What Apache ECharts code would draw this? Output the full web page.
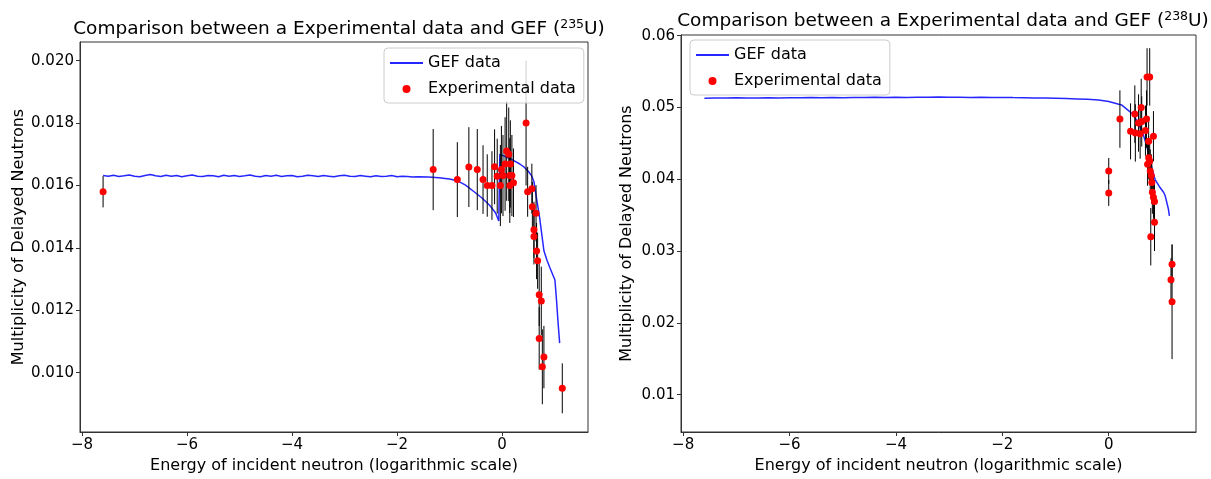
<!DOCTYPE html>
<html>
<head>
<meta charset="UTF-8">
<title>GEF vs Experimental data</title>
<script src="https://cdn.jsdelivr.net/npm/echarts@6/dist/echarts.min.js"></script>
<style>
body {
    margin: 0;
    padding: 0;
    background: #fff;
}
#main {
    width: 1211px;
    height: 479px;
}
</style>
</head>
<body>
<div id="main"></div>
<script>
// ---- U235 : GEF curve ----
var gef235X = [-7.6,-7.5,-7.4,-7.3,-7.2,-7.1,-7.0,-6.9,-6.8,-6.7,
    -6.6,-6.5,-6.4,-6.3,-6.2,-6.1,-6.0,-5.9,-5.8,-5.7,
    -5.6,-5.5,-5.4,-5.3,-5.2,-5.1,-5.0,-4.9,-4.8,-4.7,
    -4.6,-4.5,-4.4,-4.3,-4.2,-4.1,-4.0,-3.9,-3.8,-3.7,
    -3.6,-3.5,-3.4,-3.3,-3.2,-3.1,-3.0,-2.9,-2.8,-2.7,
    -2.6,-2.5,-2.4,-2.3,-2.2,-2.1,-2.0,-1.9,-1.8,-1.7,
    -1.6,-1.4,-1.2,-1.0,-0.85,-0.7,-0.53,-0.38,-0.23,-0.12,
    -0.06,-0.04,0.09,0.2,0.34,0.43,0.51,0.57,0.61,0.66,
    0.72,0.8,0.86,0.91,1.01,1.04,1.07,1.1];
var gef235Y = [0.01632,0.01630,0.01633,0.01629,0.01631,0.01634,0.01630,0.01628,0.01632,0.01635,
    0.01631,0.01629,0.01633,0.01630,0.01632,0.01628,0.01631,0.01634,0.01630,0.01629,
    0.01632,0.01631,0.01628,0.01633,0.01630,0.01632,0.01629,0.01631,0.01634,0.01630,
    0.01628,0.01632,0.01630,0.01633,0.01629,0.01631,0.01632,0.01628,0.01630,0.01633,
    0.01631,0.01629,0.01632,0.01630,0.01628,0.01631,0.01633,0.01630,0.01629,0.01632,
    0.01630,0.01628,0.01631,0.01629,0.01630,0.01632,0.01628,0.01630,0.01629,0.01627,
    0.01628,0.01627,0.01625,0.01621,0.01615,0.01602,0.01580,0.01560,0.01536,0.01512,
    0.01486,0.01700,0.01691,0.01682,0.01669,0.01658,0.01644,0.01630,0.01612,0.01558,
    0.01495,0.01391,0.01360,0.01338,0.01297,0.01233,0.01160,0.01095];

// ---- U235 : experimental points ----
var exp235X = [-7.6,-1.31,-0.85,-0.63,-0.47,-0.36,-0.28,-0.19,-0.14,-0.09,
    -0.03,-0.01,0.02,0.06,0.09,0.13,0.16,0.15,0.19,0.15,
    0.22,0.46,0.49,0.57,0.58,0.65,0.61,0.61,0.66,0.68,
    0.71,0.75,0.71,0.8,0.77,1.15];
var exp235Y = [0.01580,0.01651,0.01619,0.01659,0.01651,0.01619,0.01600,0.01600,0.01660,0.01630,
    0.01600,0.01651,0.01632,0.01669,0.01711,0.01700,0.01669,0.01632,0.01632,0.01600,
    0.01609,0.01800,0.01580,0.01590,0.01532,0.01511,0.01458,0.01437,0.01390,0.01359,
    0.01250,0.01230,0.01110,0.01050,0.01019,0.00950];
var exp235Err = [0.0005,0.0013,0.0012,0.00128,0.0013,0.0011,0.001,0.0011,0.0012,0.0012,
    0.0013,0.0014,0.0013,0.0015,0.0016,0.0015,0.0014,0.0012,0.0013,0.0012,
    0.0011,0.002,0.0008,0.0008,0.0008,0.0009,0.0009,0.0009,0.0009,0.0009,
    0.001,0.0011,0.001,0.001,0.0012,0.0008];

// ---- U238 : GEF curve ----
var gef238X = [-7.6,-7.4,-7.2,-7.0,-6.8,-6.6,-6.4,-6.2,-6.0,-5.8,
    -5.6,-5.4,-5.2,-5.0,-4.8,-4.6,-4.4,-4.2,-4.0,-3.8,
    -3.6,-3.4,-3.2,-3.0,-2.8,-2.6,-2.4,-2.2,-2.0,-1.8,
    -1.6,-1.4,-1.2,-1.0,-0.8,-0.6,-0.4,-0.19,0.0,0.24,
    0.43,0.55,0.65,0.72,0.78,0.87,0.95,1.03,1.06,1.12,1.14];
var gef238Y = [0.05130,0.05133,0.05131,0.05135,0.05132,0.05134,0.05136,0.05133,0.05137,0.05135,
    0.05138,0.05136,0.05140,0.05137,0.05141,0.05139,0.05142,0.05140,0.05143,0.05141,
    0.05144,0.05142,0.05145,0.05143,0.05144,0.05141,0.05143,0.05140,0.05141,0.05138,
    0.05136,0.05133,0.05131,0.05128,0.05125,0.05120,0.05115,0.05105,0.05085,0.05036,
    0.04921,0.04800,0.04620,0.04450,0.04237,0.04000,0.03900,0.03820,0.03773,0.03590,0.03489];

// ---- U238 : experimental points ----
var exp238X = [0.0,0.0,0.21,0.41,0.49,0.5,0.56,0.59,0.61,0.62,
    0.69,0.71,0.72,0.77,0.75,0.84,0.75,0.77,0.73,0.78,
    0.8,0.81,0.82,0.84,0.86,0.86,0.79,1.19,1.17,1.19];
var exp238Y = [0.04117,0.03810,0.04839,0.04668,0.04908,0.04646,0.04784,0.04636,0.05000,0.04806,
    0.04678,0.04839,0.05426,0.05426,0.04530,0.04600,0.04300,0.04255,0.04210,0.04117,
    0.04048,0.03957,0.03820,0.03750,0.03690,0.03400,0.03200,0.02818,0.02600,0.02295];
var exp238Err = [0.0018,0.0018,0.004,0.0039,0.004,0.004,0.004,0.0035,0.004,0.0035,
    0.0035,0.004,0.004,0.004,0.0035,0.0035,0.003,0.003,0.003,0.003,
    0.003,0.003,0.003,0.003,0.003,0.004,0.004,0.0027,0.003,0.008];

var xTicks = [-8, -6, -4, -2, 0];
var y235Ticks = [0.010, 0.012, 0.014, 0.016, 0.018, 0.020];
var y238Ticks = [0.01, 0.02, 0.03, 0.04, 0.05, 0.06];

var FONT = 'DejaVu Sans';

function zip(xs, ys) {
    return xs.map(function (x, i) { return [x, ys[i]]; });
}
function errData(xs, ys, es) {
    return xs.map(function (x, i) { return [x, ys[i] - es[i], ys[i] + es[i]]; });
}
function errRender(params, api) {
    var x = api.value(0);
    var lo = api.coord([x, api.value(1)]);
    var hi = api.coord([x, api.value(2)]);
    return {
        type: 'line',
        shape: { x1: lo[0], y1: lo[1], x2: hi[0], y2: hi[1] },
        style: { stroke: '#000', lineWidth: 1 }
    };
}
function minusFmt(v) {
    return v < 0 ? '\u2212' + Math.abs(v) : String(v);
}
function xAxisCfg(idx) {
    return {
        gridIndex: idx, type: 'value', min: -8.04, max: 1.64,
        name: 'Energy of incident neutron (logarithmic scale)',
        nameLocation: 'middle', nameGap: 26,
        nameTextStyle: { fontFamily: FONT, fontSize: 16, color: '#000' },
        axisLine: { show: true, onZero: false, lineStyle: { color: '#333' } },
        axisTick: { show: true, length: 4, customValues: xTicks, lineStyle: { color: '#333' } },
        axisLabel: { customValues: xTicks, fontFamily: FONT, fontSize: 15, color: '#000', margin: 6, formatter: minusFmt },
        splitLine: { show: false }
    };
}
function yAxisCfg(idx, min, max, ticks, digits, gap) {
    return {
        gridIndex: idx, type: 'value', min: min, max: max,
        name: 'Multiplicity of Delayed Neutrons',
        nameLocation: 'middle', nameGap: gap,
        nameTextStyle: { fontFamily: FONT, fontSize: 16, color: '#000' },
        axisLine: { show: true, onZero: false, lineStyle: { color: '#333' } },
        axisTick: { show: true, length: 4, customValues: ticks, lineStyle: { color: '#333' } },
        axisLabel: {
            customValues: ticks, fontFamily: FONT, fontSize: 15, color: '#000', margin: 6,
            formatter: function (v) { return v.toFixed(digits); }
        },
        splitLine: { show: false }
    };
}
function titleCfg(center, top, iso) {
    return {
        left: center, top: top, textAlign: 'center',
        text: '{a|Comparison between a Experimental data and GEF (}{s|' + iso + '}{a|U)}',
        textStyle: {
            fontWeight: 'normal',
            rich: {
                a: { fontFamily: FONT, fontSize: 18.5, fontWeight: 'normal', color: '#000', lineHeight: 22 },
                s: { fontFamily: FONT, fontSize: 12.5, fontWeight: 'normal', color: '#000', lineHeight: 12, verticalAlign: 'top' }
            }
        }
    };
}
function legendCfg(left, top) {
    return {
        left: left, top: top, orient: 'vertical',
        data: [
            { name: 'GEF data', itemStyle: { opacity: 0 } },
            { name: 'Experimental data' }
        ],
        itemWidth: 33, itemHeight: 8, itemGap: 10,
        padding: [7, 8, 6, 5],
        borderColor: '#ccc', borderWidth: 1, borderRadius: 4,
        backgroundColor: 'rgba(255,255,255,0.8)',
        textStyle: { fontFamily: FONT, fontSize: 16, color: '#000' }
    };
}

var chart = echarts.init(document.getElementById('main'));
var option = {
    animation: false,
    backgroundColor: '#fff',
    title: [titleCfg(334, 13, '235'), titleCfg(938, 5, '238')],
    legend: [legendCfg(384, 48), legendCfg(690, 40)],
    grid: [
        { left: 80, width: 508, top: 42, height: 394, show: true, borderColor: '#333', borderWidth: 1 },
        { left: 681, width: 515, top: 35, height: 401, show: true, borderColor: '#333', borderWidth: 1 }
    ],
    xAxis: [xAxisCfg(0), xAxisCfg(1)],
    yAxis: [
        yAxisCfg(0, 0.0081, 0.0206, y235Ticks, 3, 53),
        yAxisCfg(1, 0.0048, 0.0601, y238Ticks, 2, 46)
    ],
    series: [
        {
            name: 'GEF data', type: 'line', xAxisIndex: 0, yAxisIndex: 0,
            data: zip(gef235X, gef235Y), symbol: 'none', z: 2,
            lineStyle: { color: '#0000ff', width: 1.5, opacity: 0.85 }, itemStyle: { color: '#0000ff' }
        },
        {
            name: 'err235', type: 'custom', xAxisIndex: 0, yAxisIndex: 0,
            data: errData(exp235X, exp235Y, exp235Err), renderItem: errRender,
            encode: { x: 0, y: [1, 2] }, z: 3
        },
        {
            name: 'Experimental data', type: 'scatter', xAxisIndex: 0, yAxisIndex: 0,
            data: zip(exp235X, exp235Y), symbolSize: 7, z: 4,
            itemStyle: { color: '#ff0000', opacity: 1 }
        },
        {
            name: 'GEF data', type: 'line', xAxisIndex: 1, yAxisIndex: 1,
            data: zip(gef238X, gef238Y), symbol: 'none', z: 2,
            lineStyle: { color: '#0000ff', width: 1.5, opacity: 0.85 }, itemStyle: { color: '#0000ff' }
        },
        {
            name: 'err238', type: 'custom', xAxisIndex: 1, yAxisIndex: 1,
            data: errData(exp238X, exp238Y, exp238Err), renderItem: errRender,
            encode: { x: 0, y: [1, 2] }, z: 3
        },
        {
            name: 'Experimental data', type: 'scatter', xAxisIndex: 1, yAxisIndex: 1,
            data: zip(exp238X, exp238Y), symbolSize: 7, z: 4,
            itemStyle: { color: '#ff0000', opacity: 1 }
        }
    ]
};
chart.setOption(option);
</script>
</body>
</html>
